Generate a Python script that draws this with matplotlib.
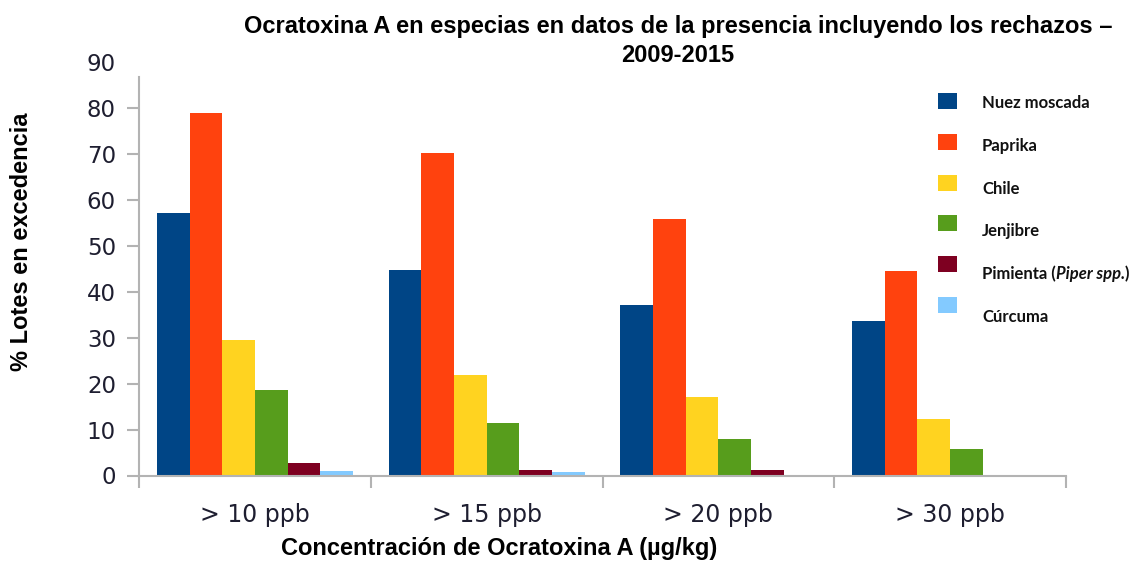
import matplotlib
matplotlib.use("Agg")
import matplotlib.pyplot as plt
from matplotlib.patches import Rectangle
import numpy as np

# ---- data -----------------------------------------------------------------
categories = ["> 10 ppb", "> 15 ppb", "> 20 ppb", "> 30 ppb"]
series_names = ["Nuez moscada", "Paprika", "Chile", "Jenjibre",
                "Pimienta", "Cúrcuma"]
nuez_moscada = [57.1, 44.7, 37.2, 33.7]
paprika = [78.9, 70.3, 55.9, 44.6]
chile = [29.5, 21.9, 17.1, 12.3]
jenjibre = [18.6, 11.4, 8.0, 5.8]
pimienta = [2.8, 1.1, 1.1, 0.0]
curcuma = [1.0, 0.7, 0.0, 0.0]
series_values = [nuez_moscada, paprika, chile, jenjibre, pimienta, curcuma]
colors = ["#004586", "#ff420e", "#ffd320", "#579d1c", "#7e0021", "#83caff"]
yticks = list(range(0, 100, 10))

title = ("Ocratoxina A en especias en datos de la presencia incluyendo los rechazos –\n"
         "2009-2015")
xlabel = "Concentración de Ocratoxina A (µg/kg)"
ylabel = "% Lotes en excedencia"

# ---- figure ---------------------------------------------------------------
W, H = 1146, 561
fig = plt.figure(figsize=(W / 100, H / 100), dpi=100)
fig.patch.set_facecolor("white")


def fx(px):
    return px / W


def fy(py):
    return 1 - py / H


ax = fig.add_axes([fx(139), fy(475.5), fx(1066) - fx(139), fy(62) - fy(475.5)])
ax.set_xlim(-0.5, len(categories) - 0.5)
ax.set_ylim(0, 90)

x = np.arange(len(categories))
n = len(series_values)
bar_w = 0.141
for i, (vals, col) in enumerate(zip(series_values, colors)):
    ax.bar(x + (i - (n - 1) / 2) * bar_w, vals, width=bar_w, color=col,
           linewidth=0, zorder=2)

axis_grey = "#b3b3b3"
tick_text = "#1e1e30"
for side in ("top", "right"):
    ax.spines[side].set_visible(False)
for side in ("left", "bottom"):
    ax.spines[side].set_color(axis_grey)
    ax.spines[side].set_linewidth(1.5)
ax.spines["left"].set_bounds(0, 86.8)

ax.set_yticks(yticks)
ax.set_yticklabels([str(v) for v in yticks])
ax.tick_params(axis="y", length=8.6, width=1.5, color=axis_grey, pad=8,
               labelsize=16.5, labelcolor=tick_text)
ax.yaxis.get_major_ticks()[-1].tick1line.set_visible(False)
for lab in ax.get_yticklabels():
    lab.set_fontfamily("DejaVu Sans")

# category separators below the axis, labels centred in each slot
ax.set_xticks(np.arange(len(categories) + 1) - 0.5)
ax.set_xticklabels([])
ax.set_xticks(x, minor=True)
ax.set_xticklabels(categories, minor=True)
ax.tick_params(axis="x", which="major", length=8.6, width=1.5, color=axis_grey)
ax.tick_params(axis="x", which="minor", length=0, pad=20, labelsize=17,
               labelcolor=tick_text)
for lab in ax.get_xticklabels(minor=True):
    lab.set_fontfamily("DejaVu Sans")

# ---- titles ---------------------------------------------------------------
fig.text(fx(678), fy(41), title, ha="center", va="center",
         fontsize=17, fontweight="bold", family="Liberation Sans",
         linespacing=1.32)
fig.text(fx(499), fy(548), xlabel, ha="center", va="center",
         fontsize=17, fontweight="bold", family="Liberation Sans")
fig.text(fx(22), fy(242), ylabel, ha="center", va="center", rotation=90,
         fontsize=17, fontweight="bold", family="Liberation Sans")

# ---- legend ---------------------------------------------------------------
leg_font = dict(fontsize=12, fontweight="bold", family="Lato", color="#111111")
marker_x, marker_w, marker_h = 938, 19, 16
marker_y0, marker_step = 101, 40.8
text_x, text_y0, text_step = 982, 103, 42.8
renderer = fig.canvas.get_renderer()
for i, (name, col) in enumerate(zip(series_names, colors)):
    my = marker_y0 + i * marker_step
    fig.patches.append(Rectangle((fx(marker_x), fy(my + marker_h / 2)),
                                 fx(marker_w), fy(0) - fy(marker_h),
                                 transform=fig.transFigure, facecolor=col,
                                 edgecolor="none"))
    ty = text_y0 + i * text_step
    if name == "Pimienta":
        pieces = [("Pimienta (", "normal"), ("Piper spp.", "italic"), (")", "normal")]
        cur = fx(text_x)
        for txt, style in pieces:
            t = fig.text(cur, fy(ty), txt, ha="left", va="center",
                         style=style, **leg_font)
            bb = t.get_window_extent(renderer)
            cur = fx(bb.x1)
    else:
        fig.text(fx(text_x), fy(ty), name, ha="left", va="center", **leg_font)

fig.savefig("out.png", dpi=100)
